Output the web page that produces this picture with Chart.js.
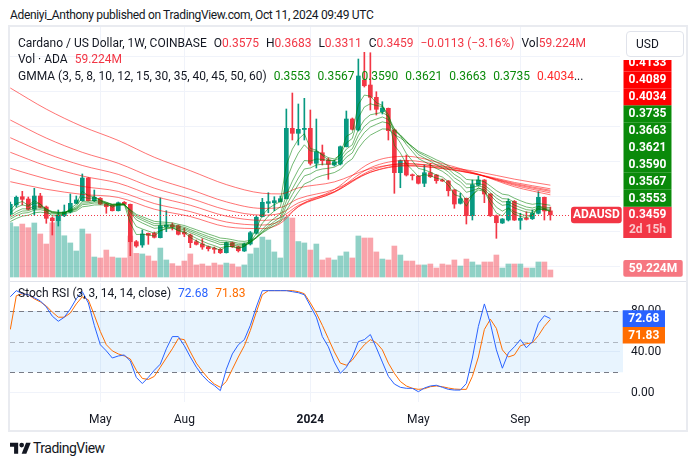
<!DOCTYPE html>
<html>
<head>
<meta charset="utf-8">
<title>ADAUSD 1W</title>
<script src="https://cdn.jsdelivr.net/npm/chart.js@4.4.1/dist/chart.umd.min.js"></script>
<style>
  html, body { margin: 0; background: #fff; }
  body { width: 698px; height: 466px; position: relative; overflow: hidden;
         font-family: Roboto, "Open Sans", sans-serif; color: #131722; }
  .abs { position: absolute; }
  #pub { left: 10px; top: 7px; font-size: 12px; line-height: 16px; white-space: nowrap; letter-spacing: -0.33px; }
  #frame { left: 8px; top: 25px; width: 680px; height: 407px; box-sizing: border-box; border: 2px solid #e9ebf0; }
  canvas { position: absolute; }
  #priceCanvas { left: 10px; top: 27px; }
  #rsiCanvas { left: 10px; top: 282px; }
  #sep { left: 10px; top: 281px; width: 676px; height: 1px; background: #e0e3eb; }
  .lg { position: absolute; left: 18px; font-size: 12px; line-height: 16px; white-space: nowrap; }
  .lg .gap { margin-left: 7px; }
  .red { color: #f23645; }
  .grn { color: #0a8a0a; }
  .gred { color: #ff2a2a; }
  .blue { color: #2962ff; }
  .orng { color: #ff6d00; }
  #usd { left: 626px; top: 31px; width: 58px; height: 26px; box-sizing: border-box; border: 1px solid #e0e3eb;
         border-radius: 4px; background: #fff; font-size: 12px; line-height: 24px; padding-left: 9px; }
  #tvText { left: 33px; top: 439px; font-size: 14px; line-height: 18px; letter-spacing: -0.5px; }
</style>
</head>
<body>
<div id="pub" class="abs">Adeniyi_Anthony published on TradingView.com, Oct 11, 2024 09:49 UTC</div>
<canvas id="priceCanvas" width="676" height="255"></canvas>
<canvas id="rsiCanvas" width="676" height="148"></canvas>
<div id="sep" class="abs"></div>
<div id="frame" class="abs"></div>

<div class="lg" style="top:35px">Cardano / US Dollar, 1W, COINBASE<span class="gap">O</span><span class="red" id="vO"></span><span class="gap">H</span><span class="red" id="vH"></span><span class="gap">L</span><span class="red" id="vL"></span><span class="gap">C</span><span class="red" id="vC"></span><span class="gap red" id="vChg"></span><span class="gap">Vol</span><span class="red" id="vVol1"></span></div>
<div class="lg" style="top:51px">Vol · ADA<span class="gap red" id="vVol2"></span></div>
<div class="lg" style="top:68px" id="gmmaLegend">GMMA (3, 5, 8, 10, 12, 15, 30, 35, 40, 45, 50, 60)</div>
<div class="lg" style="top:285px">Stoch RSI (3, 3, 14, 14, close)<span class="gap blue" id="vK"></span><span class="gap orng" id="vD"></span></div>

<div id="usd" class="abs">USD</div>

<svg class="abs" style="left:10px;top:442px" width="21" height="12" viewBox="0 0 36 20">
  <path d="M14 20H7V8H0V1h14z" fill="#131722"/>
  <circle cx="20" cy="5" r="4" fill="#131722"/>
  <path d="M28 20h-8l7.5-19h8z" fill="#131722"/>
</svg>
<div id="tvText" class="abs">TradingView</div>

<script>
// weekly bars, index 0 = week of 16 Jan 2023, index 90 = week of 7 Oct 2024
const open = [0.3486, 0.3743, 0.398, 0.3914, 0.362, 0.40, 0.3686, 0.3371, 0.3294, 0.3437,
  0.3543, 0.3791, 0.3866, 0.4514, 0.3866, 0.3934, 0.3771, 0.3734, 0.358, 0.382,
  0.3763, 0.2694, 0.26, 0.2934, 0.2934, 0.2809, 0.3123, 0.3171, 0.3151, 0.2963,
  0.2886, 0.2694, 0.2629, 0.2551, 0.2506, 0.2477, 0.238, 0.2666, 0.2551, 0.2429,
  0.2629, 0.2934, 0.3409, 0.3791, 0.3809, 0.3837, 0.3923, 0.5934, 0.5791, 0.59,
  0.5934, 0.4934, 0.5237, 0.5029, 0.4886, 0.4914, 0.5409, 0.62, 0.5886, 0.7314,
  0.7171, 0.682, 0.6409, 0.6506, 0.5886, 0.4666, 0.5009, 0.46, 0.4571, 0.4363,
  0.4666, 0.46, 0.4457, 0.4429, 0.4171, 0.3791, 0.3934, 0.3437, 0.4306, 0.4457,
  0.4057, 0.3437, 0.3229, 0.3314, 0.3849, 0.3306, 0.3363, 0.3351, 0.3506, 0.3963,
  0.3575];
const high = [0.3829, 0.40, 0.4134, 0.3971, 0.422, 0.4077, 0.3714, 0.34, 0.36, 0.3743,
  0.4057, 0.40, 0.4629, 0.4529, 0.4171, 0.3957, 0.3786, 0.3743, 0.3829, 0.3843,
  0.3771, 0.2729, 0.3029, 0.2943, 0.2971, 0.3943, 0.358, 0.3229, 0.3171, 0.3086,
  0.2914, 0.2743, 0.278, 0.2571, 0.2543, 0.25, 0.2686, 0.2686, 0.2571, 0.2657,
  0.2986, 0.3429, 0.3934, 0.4094, 0.398, 0.40, 0.6486, 0.6943, 0.6629, 0.6791,
  0.6457, 0.62, 0.5457, 0.5086, 0.5029, 0.5429, 0.6429, 0.6229, 0.7914, 0.8106,
  0.8094, 0.698, 0.6694, 0.6514, 0.5914, 0.5029, 0.5171, 0.4629, 0.4586, 0.4886,
  0.4934, 0.4614, 0.4486, 0.4443, 0.4186, 0.4077, 0.3943, 0.4457, 0.4571, 0.4471,
  0.4071, 0.3457, 0.3357, 0.3914, 0.3871, 0.3506, 0.3551, 0.36, 0.4123, 0.3971,
  0.3683];
const low = [0.3429, 0.3686, 0.3743, 0.36, 0.3457, 0.3657, 0.322, 0.2886, 0.3143, 0.3409,
  0.3514, 0.378, 0.3857, 0.3857, 0.3843, 0.3757, 0.3506, 0.3571, 0.3571, 0.3743,
  0.2294, 0.2534, 0.2534, 0.262, 0.28, 0.28, 0.298, 0.3029, 0.2886, 0.2837,
  0.2523, 0.26, 0.2477, 0.2429, 0.2363, 0.2357, 0.2371, 0.2529, 0.24, 0.2414,
  0.26, 0.2914, 0.34, 0.3523, 0.358, 0.3829, 0.3914, 0.56, 0.5457, 0.56,
  0.4886, 0.48, 0.4886, 0.4477, 0.4857, 0.4886, 0.54, 0.5886, 0.5857, 0.7114,
  0.6457, 0.6314, 0.6343, 0.56, 0.4077, 0.4237, 0.4571, 0.4457, 0.4343, 0.4266,
  0.4529, 0.4363, 0.4414, 0.40, 0.3649, 0.3771, 0.32, 0.3314, 0.4286, 0.3809,
  0.3414, 0.2791, 0.3214, 0.3286, 0.33, 0.3049, 0.3314, 0.3329, 0.3486, 0.3314,
  0.3311];
const close = [0.3763, 0.3963, 0.3906, 0.362, 0.40, 0.3677, 0.3363, 0.3294, 0.3457, 0.3543,
  0.3791, 0.3886, 0.4514, 0.3866, 0.3963, 0.3771, 0.3694, 0.358, 0.3809, 0.3763,
  0.2694, 0.2571, 0.2914, 0.2877, 0.282, 0.3151, 0.3171, 0.3123, 0.2906, 0.2914,
  0.2666, 0.262, 0.2543, 0.2494, 0.2477, 0.238, 0.2666, 0.2551, 0.2437, 0.2629,
  0.2951, 0.3391, 0.382, 0.3837, 0.3866, 0.3923, 0.5934, 0.5791, 0.5906, 0.5934,
  0.4934, 0.5266, 0.5009, 0.4906, 0.498, 0.5409, 0.62, 0.5906, 0.7429, 0.7151,
  0.682, 0.6477, 0.6514, 0.5866, 0.4666, 0.5009, 0.46, 0.458, 0.4363, 0.4666,
  0.4551, 0.4437, 0.4429, 0.4151, 0.3771, 0.3923, 0.3437, 0.4323, 0.4457, 0.4057,
  0.3437, 0.3237, 0.3343, 0.3849, 0.3314, 0.3363, 0.3334, 0.3506, 0.3963, 0.3572,
  0.3459];
// volume in millions of ADA
const volume = [459, 426, 448, 417, 457, 364, 279, 459, 516, 349,
  288, 220, 406, 364, 169, 161, 228, 169, 161, 161,
  347, 200, 195, 178, 135, 245, 144, 113, 93, 135,
  195, 102, 110, 93, 118, 102, 118, 110, 85, 102,
  195, 245, 338, 313, 212, 161, 508, 499, 300, 288,
  228, 279, 144, 161, 144, 178, 212, 161, 347, 330,
  330, 212, 152, 144, 262, 186, 135, 135, 102, 102,
  110, 76, 110, 102, 144, 93, 152, 127, 102, 127,
  127, 186, 76, 110, 110, 110, 76, 76, 127, 127,
  59.224];

// GMMA short group (weekly values)
const ema3 = [0.36, 0.3782, 0.3844, 0.3732, 0.3866, 0.3772, 0.3567, 0.3431, 0.3444, 0.3494,
  0.3642, 0.3764, 0.4139, 0.4003, 0.3983, 0.3877, 0.3786, 0.3683, 0.3746, 0.3755,
  0.3225, 0.2898, 0.2906, 0.2892, 0.2856, 0.3004, 0.3088, 0.3106, 0.3006, 0.296,
  0.2813, 0.2717, 0.263, 0.2562, 0.252, 0.245, 0.2558, 0.2555, 0.2496, 0.2563,
  0.2757, 0.3074, 0.3447, 0.3642, 0.3754, 0.3839, 0.4887, 0.5339, 0.5623, 0.5779,
  0.5357, 0.5312, 0.516, 0.5033, 0.5007, 0.5208, 0.5704, 0.5805, 0.6617, 0.6884,
  0.6852, 0.6665, 0.659, 0.6228, 0.5447, 0.5228, 0.4914, 0.4747, 0.4555, 0.4611,
  0.4581, 0.4509, 0.4469, 0.431, 0.4041, 0.3982, 0.371, 0.4017, 0.4237, 0.4147,
  0.3792, 0.3515, 0.3429, 0.3639, 0.3477, 0.342, 0.3377, 0.3442, 0.3703, 0.3639,
  0.3553];
const ema5 = [0.352, 0.3668, 0.3747, 0.3705, 0.3803, 0.3761, 0.3628, 0.3517, 0.3497, 0.3512,
  0.3605, 0.3699, 0.3971, 0.3936, 0.3945, 0.3887, 0.3823, 0.3742, 0.3764, 0.3764,
  0.3407, 0.3128, 0.3057, 0.2997, 0.2938, 0.3009, 0.3063, 0.3083, 0.3024, 0.2987,
  0.288, 0.2793, 0.271, 0.2638, 0.2584, 0.2516, 0.2566, 0.2561, 0.252, 0.2556,
  0.2688, 0.2922, 0.3221, 0.3426, 0.3573, 0.369, 0.4438, 0.4889, 0.5228, 0.5463,
  0.5287, 0.528, 0.519, 0.5095, 0.5057, 0.5174, 0.5516, 0.5646, 0.624, 0.6544,
  0.6636, 0.6583, 0.656, 0.6329, 0.5775, 0.552, 0.5213, 0.5002, 0.4789, 0.4748,
  0.4682, 0.46, 0.4543, 0.4412, 0.4198, 0.4106, 0.3883, 0.403, 0.4172, 0.4134,
  0.3902, 0.368, 0.3568, 0.3662, 0.3546, 0.3485, 0.3435, 0.3459, 0.3627, 0.361,
  0.3567];
const ema8 = [0.344, 0.3556, 0.3634, 0.3631, 0.3713, 0.3705, 0.3629, 0.3555, 0.3533, 0.3535,
  0.3592, 0.3657, 0.3847, 0.3851, 0.3876, 0.3853, 0.3818, 0.3765, 0.3775, 0.3772,
  0.3532, 0.3318, 0.3228, 0.315, 0.3077, 0.3093, 0.311, 0.3113, 0.3067, 0.3033,
  0.2951, 0.2877, 0.2803, 0.2734, 0.2677, 0.2611, 0.2623, 0.2607, 0.2569, 0.2582,
  0.2664, 0.2826, 0.3047, 0.3223, 0.3366, 0.349, 0.4033, 0.4424, 0.4753, 0.5015,
  0.4997, 0.5057, 0.5046, 0.5015, 0.5007, 0.5096, 0.534, 0.5465, 0.59, 0.6178,
  0.632, 0.6355, 0.6391, 0.6275, 0.5919, 0.5717, 0.5469, 0.5272, 0.507, 0.498,
  0.4885, 0.4786, 0.4707, 0.4584, 0.4404, 0.4297, 0.4106, 0.4154, 0.4221, 0.4185,
  0.4019, 0.3845, 0.3734, 0.376, 0.3661, 0.3595, 0.3537, 0.353, 0.3626, 0.3615,
  0.359];
const ema10 = [0.339, 0.3494, 0.3569, 0.3578, 0.3655, 0.3659, 0.3605, 0.3548, 0.3531, 0.3533,
  0.358, 0.3636, 0.3796, 0.3809, 0.3837, 0.3825, 0.3801, 0.3761, 0.377, 0.3769,
  0.3574, 0.3392, 0.3305, 0.3227, 0.3153, 0.3153, 0.3156, 0.315, 0.3106, 0.3071,
  0.2997, 0.2928, 0.2858, 0.2792, 0.2735, 0.267, 0.2669, 0.2648, 0.261, 0.2613,
  0.2674, 0.2804, 0.2989, 0.3143, 0.3274, 0.3392, 0.3854, 0.4206, 0.4515, 0.4773,
  0.4802, 0.4886, 0.4908, 0.4908, 0.4921, 0.501, 0.5226, 0.535, 0.5728, 0.5987,
  0.6138, 0.62, 0.6257, 0.6186, 0.591, 0.5747, 0.557, 0.5364, 0.5182, 0.5088,
  0.499, 0.4889, 0.4805, 0.4686, 0.4519, 0.4411, 0.4234, 0.425, 0.4288, 0.4246,
  0.4099, 0.3942, 0.3833, 0.3836, 0.3741, 0.3672, 0.361, 0.3591, 0.3659, 0.3644,
  0.3621];
const ema12 = [0.334, 0.3436, 0.3508, 0.3525, 0.3598, 0.361, 0.3572, 0.3529, 0.3518, 0.3522,
  0.3563, 0.3613, 0.3752, 0.377, 0.38, 0.3796, 0.378, 0.3749, 0.3758, 0.3759,
  0.3595, 0.3438, 0.3357, 0.3283, 0.3212, 0.3203, 0.3198, 0.3186, 0.3143, 0.3108,
  0.304, 0.2975, 0.2909, 0.2845, 0.2788, 0.2725, 0.2716, 0.2691, 0.2652, 0.2648,
  0.2695, 0.2802, 0.2959, 0.3094, 0.3213, 0.3322, 0.3724, 0.4042, 0.4329, 0.4576,
  0.4631, 0.4729, 0.4772, 0.4793, 0.4822, 0.4912, 0.511, 0.5232, 0.557, 0.5813,
  0.5968, 0.6047, 0.6119, 0.608, 0.5862, 0.5731, 0.5557, 0.5407, 0.5246, 0.5156,
  0.5063, 0.4966, 0.4883, 0.477, 0.4617, 0.451, 0.4345, 0.4341, 0.4359, 0.4312,
  0.4177, 0.4032, 0.3926, 0.3914, 0.3821, 0.375, 0.3686, 0.3658, 0.3705, 0.3685,
  0.3663];
const ema15 = [0.327, 0.3357, 0.3426, 0.345, 0.3519, 0.3539, 0.3517, 0.3489, 0.3485, 0.3492,
  0.3529, 0.3574, 0.3691, 0.3713, 0.3744, 0.3747, 0.3741, 0.3721, 0.3732, 0.3736,
  0.3606, 0.3477, 0.3407, 0.3341, 0.3276, 0.326, 0.3249, 0.3233, 0.3192, 0.3157,
  0.3096, 0.3036, 0.2974, 0.2914, 0.2859, 0.2799, 0.2782, 0.2753, 0.2714, 0.2703,
  0.2734, 0.2816, 0.2942, 0.3054, 0.3155, 0.3251, 0.3586, 0.3862, 0.4118, 0.4345,
  0.4419, 0.4525, 0.4586, 0.4626, 0.467, 0.4762, 0.4942, 0.5063, 0.5359, 0.5583,
  0.5738, 0.583, 0.5916, 0.591, 0.5754, 0.5661, 0.5528, 0.541, 0.5279, 0.5202,
  0.5121, 0.5035, 0.496, 0.4859, 0.4723, 0.4623, 0.4475, 0.4456, 0.4456, 0.4406,
  0.4285, 0.4154, 0.4053, 0.4027, 0.3938, 0.3866, 0.38, 0.3763, 0.3788, 0.3761,
  0.3735];

// GMMA long group, read at these bar indexes
const longIdx = [0, 6, 12, 18, 24, 30, 36, 42, 45, 48, 54, 60, 66, 72, 78, 84, 90];
const ema30 = [0.4409, 0.4193, 0.4046, 0.3959, 0.3623, 0.3413, 0.3122, 0.307, 0.3216, 0.3699, 0.4185, 0.4944, 0.5134, 0.4926, 0.4623, 0.4265, 0.4034];
const ema35 = [0.4791, 0.449, 0.4274, 0.4131, 0.3785, 0.3554, 0.3257, 0.3171, 0.3282, 0.3691, 0.4121, 0.4808, 0.5016, 0.4867, 0.4619, 0.4306, 0.4089];
const ema40 = [0.5249, 0.4861, 0.4572, 0.4367, 0.3997, 0.3736, 0.3424, 0.3304, 0.3384, 0.3732, 0.4106, 0.4723, 0.493, 0.4819, 0.4609, 0.4332, 0.4133];
const ema45 = [0.5666, 0.5218, 0.4873, 0.4617, 0.4224, 0.3934, 0.3605, 0.3454, 0.3506, 0.3803, 0.4124, 0.4678, 0.4876, 0.4789, 0.4607, 0.4357, 0.4164];
const ema50 = [0.6171, 0.5655, 0.5248, 0.4935, 0.4509, 0.4185, 0.3832, 0.3646, 0.3672, 0.3922, 0.4189, 0.4679, 0.4859, 0.4783, 0.4618, 0.4388, 0.4206];
const ema60 = [0.7086, 0.6482, 0.5987, 0.5587, 0.5107, 0.4723, 0.4326, 0.4079, 0.406, 0.4232, 0.4403, 0.4781, 0.4915, 0.4841, 0.469, 0.4482, 0.431];

// Stoch RSI
const stochK = [94, 100, 97, 96, 93, 90, 84, 75, 70, 74,
  82, 92, 99, 88, 66, 47, 41, 34, 36, 37,
  31, 15, 9, 15, 22, 28, 43, 55, 55, 46,
  35, 25, 17, 11, 7, 2, 23, 38, 47, 52,
  66, 84, 100, 100, 100, 100, 100, 99, 98, 96,
  85, 74, 55, 45, 30, 19, 25, 35, 50, 52,
  57, 44, 30, 16, 8.5, 5.3, 4.3, 4.3, 1, 4.6,
  6.6, 7.3, 5.3, 3.3, 2.6, 2.6, 9, 34, 65, 87,
  68, 42, 24, 39, 45, 52, 44, 50, 68, 75.5,
  72.68];
const stochD = [62, 95, 97, 96, 92, 89, 85, 79, 74, 74,
  78, 87, 94, 91, 76, 60, 47, 41, 38, 36,
  33, 22, 14, 13, 16, 25, 34, 43, 53, 52,
  40, 29, 21, 14, 8.5, 5.3, 11, 23, 35, 46,
  61, 79, 96, 100, 100, 100, 100, 100, 99, 97,
  88, 78, 66, 53, 40, 29, 27, 32, 40, 47,
  52, 49, 42, 29, 19, 11, 6.6, 4.3, 3.3, 3.9,
  5.9, 6.6, 5.9, 4.6, 3.6, 3.3, 3.3, 16, 35, 62,
  72, 63, 42, 35, 37, 46, 48, 49, 56, 65,
  71.83];

const tickIdx = [15, 29, 50, 68, 85];
const tickText = ['May', 'Aug', '2024', 'May', 'Sep'];
const priceGrid = [0.2, 0.3, 0.4, 0.5, 0.6, 0.7, 0.8];
const rsiGrid = [0, 40, 80];
const rsiBands = [80, 50, 20];

const UP = '#089981';
const DOWN = '#f23645';
const SHORT_COL = '#0a8a0a';
const LONG_COL = '#ff0000';
const FONT = 'Roboto, "Open Sans", sans-serif';
Chart.defaults.font.family = FONT;

const last = close.length - 1;
const idx = close.map((_, i) => i);
const isUp = idx.map(i => close[i] >= open[i]);

// ---------- legends ----------
const fmt = v => v.toFixed(4);
document.getElementById('vO').textContent = fmt(open[last]);
document.getElementById('vH').textContent = fmt(high[last]);
document.getElementById('vL').textContent = fmt(low[last]);
document.getElementById('vC').textContent = fmt(close[last]);
const chg = close[last] - close[last - 1];
const sign = chg < 0 ? '\u2212' : '+';
document.getElementById('vChg').textContent =
  sign + Math.abs(chg).toFixed(4) + ' (' + sign + Math.abs(chg / close[last - 1] * 100).toFixed(2) + '%)';
document.getElementById('vVol1').textContent = volume[last].toFixed(3) + 'M';
document.getElementById('vVol2').textContent = volume[last].toFixed(3) + 'M';
document.getElementById('vK').textContent = stochK[last].toFixed(2);
document.getElementById('vD').textContent = stochD[last].toFixed(2);

const shortLines = [ema3, ema5, ema8, ema10, ema12, ema15];
const longLines = [ema30, ema35, ema40, ema45, ema50, ema60];
const gmmaLegend = document.getElementById('gmmaLegend');
shortLines.forEach(a => {
  const s = document.createElement('span');
  s.className = 'gap grn';
  s.textContent = fmt(a[a.length - 1]);
  gmmaLegend.appendChild(s);
});
const firstLong = document.createElement('span');
firstLong.className = 'gap gred';
firstLong.textContent = fmt(ema30[ema30.length - 1]);
gmmaLegend.appendChild(firstLong);
gmmaLegend.appendChild(document.createTextNode('...'));

// ---------- helpers ----------
function box(ctx, x, y, w, h, r, color) {
  ctx.fillStyle = color;
  ctx.beginPath();
  if (ctx.roundRect) ctx.roundRect(x, y, w, h, r); else ctx.rect(x, y, w, h);
  ctx.fill();
}
function label(ctx, text, x, y, color) {
  ctx.fillStyle = color || '#fff';
  ctx.textAlign = 'center';
  ctx.textBaseline = 'middle';
  ctx.fillText(text, x, y + 0.5);
}
// keep tick labels from pushing the plot area in
function noPad(s) {
  s.paddingTop = 0; s.paddingBottom = 0; s.paddingLeft = 0; s.paddingRight = 0;
}

// ---------- price pane ----------
const priceTags = {
  id: 'priceTags',
  afterDraw(chart) {
    const { ctx, chartArea: a, scales } = chart;
    const py = scales.y.getPixelForValue(close[last]);
    ctx.save();
    // last price dotted line
    ctx.strokeStyle = DOWN;
    ctx.lineWidth = 1;
    ctx.setLineDash([1, 2]);
    ctx.beginPath();
    ctx.moveTo(a.left, Math.round(py) + 0.5);
    ctx.lineTo(a.right - 49, Math.round(py) + 0.5);
    ctx.stroke();
    ctx.setLineDash([]);
    ctx.font = 'bold 12px ' + FONT;
    // symbol tag
    box(ctx, a.right - 49, py - 8.3, 50.7, 16.6, 3, DOWN);
    label(ctx, 'ADAUSD', a.right - 23.6, py);
    // axis labels
    const lx = a.right + 3.3, lw = 48.4, lh = 16.9;
    box(ctx, lx, py - 8.3, lw, 31.3, 0, DOWN);
    label(ctx, fmt(close[last]), lx + lw / 2, py);
    label(ctx, '2d 15h', lx + lw / 2, py + 15, 'rgba(255,255,255,0.72)');
    const tags = shortLines.map(s => ({ v: s[s.length - 1], c: SHORT_COL }))
      .concat(longLines.map(s => ({ v: s[s.length - 1], c: LONG_COL })))
      .sort((p, q) => p.v - q.v);
    ctx.save();
    ctx.beginPath();
    ctx.rect(lx, 33, lw, a.bottom);
    ctx.clip();
    tags.forEach((t, k) => {
      const cy = py - 8.3 - lh / 2 - k * lh;
      box(ctx, lx, cy - lh / 2, lw, lh, 0, t.c);
      label(ctx, fmt(t.v), lx + lw / 2, cy);
    });
    ctx.restore();
    // volume tag
    const vy = scales.yVol.getPixelForValue(volume[last]) - 1.7;
    box(ctx, lx, vy - 8.3, 59.4, 16.7, 2, 'rgba(242,54,69,0.68)');
    label(ctx, volume[last].toFixed(3) + 'M', lx + 29.7, vy);
    ctx.restore();
  }
};

const datasets = [];
shortLines.forEach(a => datasets.push({
  type: 'line', data: a.map((v, i) => ({ x: i, y: v })), borderColor: 'rgba(0,128,0,0.55)',
  borderWidth: 1, pointRadius: 0, tension: 0, order: 1
}));
longLines.forEach(a => datasets.push({
  type: 'line', data: a.map((v, j) => ({ x: longIdx[j], y: v })), borderColor: 'rgba(255,0,0,0.55)',
  borderWidth: 1, pointRadius: 0, cubicInterpolationMode: 'monotone', order: 1
}));
datasets.push({
  type: 'bar', data: idx.map(i => ({ x: i, y: [open[i], close[i]] })),
  backgroundColor: isUp.map(u => u ? UP : DOWN), barThickness: 4, minBarLength: 1, grouped: false, order: 2
});
datasets.push({
  type: 'bar', data: idx.map(i => ({ x: i, y: [low[i], high[i]] })),
  backgroundColor: isUp.map(u => u ? UP : DOWN), barThickness: 1, grouped: false, order: 3
});
datasets.push({
  type: 'bar', yAxisID: 'yVol', data: idx.map(i => ({ x: i, y: volume[i] })),
  backgroundColor: isUp.map(u => u ? 'rgba(8,153,129,0.45)' : 'rgba(242,54,69,0.45)'),
  barThickness: 5, grouped: false, order: 4
});

new Chart(document.getElementById('priceCanvas'), {
  type: 'bar',
  data: { datasets },
  options: {
    responsive: false, animation: false, events: [],
    layout: { padding: 0, autoPadding: false },
    plugins: { legend: { display: false }, tooltip: { enabled: false } },
    scales: {
      x: {
        type: 'linear', min: -0.05, max: 101.6, offset: false,
        afterBuildTicks: s => { s.ticks = tickIdx.map(v => ({ value: v })); },
        afterFit: noPad,
        ticks: { display: false },
        grid: { color: '#f0f3fa', drawTicks: false, offset: false },
        border: { display: false }
      },
      y: {
        position: 'right', min: 0.1543, max: 0.8829,
        afterBuildTicks: s => { s.ticks = priceGrid.map(v => ({ value: v })); },
        afterFit: s => { s.width = 66; noPad(s); },
        ticks: { display: false },
        grid: { color: '#f0f3fa', drawTicks: false },
        border: { display: false }
      },
      yVol: { display: false, min: -42.3, max: 2115 }
    }
  },
  plugins: [priceTags]
});

// ---------- Stoch RSI pane ----------
const rsiDeco = {
  id: 'rsiDeco',
  beforeDatasetsDraw(chart) {
    const { ctx, chartArea: a, scales } = chart;
    const y80 = scales.y.getPixelForValue(rsiBands[0]);
    const y20 = scales.y.getPixelForValue(rsiBands[2]);
    ctx.save();
    ctx.fillStyle = 'rgba(33,150,243,0.1)';
    ctx.fillRect(a.left, y80, a.right - a.left + 3, y20 - y80);
    ctx.lineWidth = 1;
    ctx.setLineDash([5, 4]);
    rsiBands.forEach((b, k) => {
      const yy = Math.round(scales.y.getPixelForValue(b)) + 0.5;
      ctx.strokeStyle = k === 1 ? 'rgba(120,123,134,0.5)' : '#787b86';
      ctx.beginPath();
      ctx.moveTo(a.left, yy);
      ctx.lineTo(a.right, yy);
      ctx.stroke();
    });
    ctx.restore();
  },
  afterDraw(chart) {
    const { ctx, chartArea: a, scales } = chart;
    const ky = scales.y.getPixelForValue(stochK[last]);
    ctx.save();
    ctx.font = 'bold 12px ' + FONT;
    const lx = a.right + 2.7, lw = 42.3, lh = 16.7;
    box(ctx, lx, ky - lh / 2, lw, lh, 0, '#2962ff');
    label(ctx, stochK[last].toFixed(2), lx + lw / 2, ky);
    box(ctx, lx, ky + lh / 2, lw, lh, 0, '#ff6d00');
    label(ctx, stochD[last].toFixed(2), lx + lw / 2, ky + lh);
    ctx.restore();
  }
};

new Chart(document.getElementById('rsiCanvas'), {
  type: 'line',
  data: {
    datasets: [
      { data: stochK.map((v, i) => ({ x: i, y: v })), borderColor: '#2962ff', borderWidth: 1, pointRadius: 0, tension: 0 },
      { data: stochD.map((v, i) => ({ x: i, y: v })), borderColor: '#ff6d00', borderWidth: 1, pointRadius: 0, tension: 0 }
    ]
  },
  options: {
    responsive: false, animation: false, events: [],
    layout: { padding: { top: 1 }, autoPadding: false },
    plugins: { legend: { display: false }, tooltip: { enabled: false } },
    scales: {
      x: {
        type: 'linear', min: -0.05, max: 101.6,
        afterBuildTicks: s => { s.ticks = tickIdx.map(v => ({ value: v })); },
        afterFit: s => { s.height = 28; noPad(s); },
        ticks: {
          padding: 11, maxRotation: 0, autoSkip: false, color: '#131722',
          callback: v => tickText[tickIdx.indexOf(v)],
          font: c => ({ family: FONT, size: 12, weight: /^\d{4}$/.test(tickText[tickIdx.indexOf(c.tick && c.tick.value)] || '') ? 'bold' : 'normal' })
        },
        grid: { color: '#f0f3fa', drawTicks: false },
        border: { display: false }
      },
      y: {
        position: 'right', min: -9.1, max: 107.5,
        afterBuildTicks: s => { s.ticks = rsiGrid.map(v => ({ value: v })); },
        afterFit: s => { s.width = 66; noPad(s); },
        ticks: { padding: 11, color: '#131722', font: { size: 12 }, callback: v => v.toFixed(2) },
        grid: { color: '#f0f3fa', drawTicks: false },
        border: { display: false }
      }
    }
  },
  plugins: [rsiDeco]
});
</script>
</body>
</html>
